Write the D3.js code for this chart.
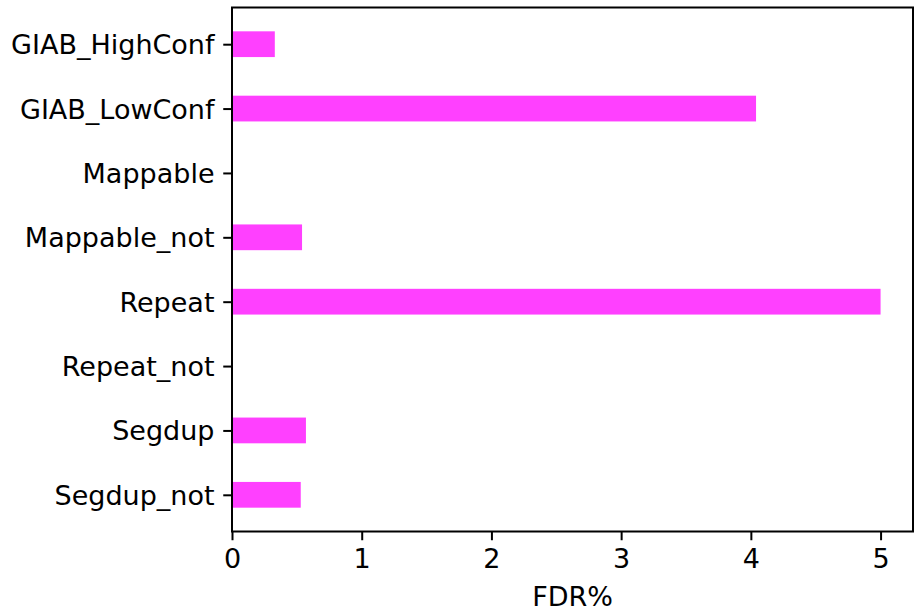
<!DOCTYPE html>
<html>
<head>
<meta charset="utf-8">
<script src="https://cdn.jsdelivr.net/npm/d3@7"></script>
<style>
  body { margin: 0; background: #fff; }
  svg { display: block; }
  text { font-family: "DejaVu Sans", sans-serif; fill: #000; }
</style>
</head>
<body>
<svg id="chart" width="914" height="613"></svg>
<script>
const categories = ["GIAB_HighConf", "GIAB_LowConf", "Mappable", "Mappable_not", "Repeat", "Repeat_not", "Segdup", "Segdup_not"];
const fdrValues = [0.33, 4.04, 0, 0.54, 5.0, 0, 0.57, 0.53];
const xTicks = [0, 1, 2, 3, 4, 5];
const xLabel = "FDR%";

(function () {
const svg = d3.select("#chart");
const pL = 232, pR = 913, pT = 7.5, pB = 531.5;
const fs = 27, tickLen = 8.75, pad = 8.75, lw = 2;
const barH = 0.4;

const x = d3.scaleLinear().domain([0, 5.25]).range([pL, pR]);
const n = categories.length;
const ymargin = (n - 1 + barH) * 0.05;
const y = d3.scaleLinear().domain([-barH / 2 - ymargin, n - 1 + barH / 2 + ymargin]).range([pT, pB]);

// bars
svg.append("g").selectAll("rect").data(categories).join("rect")
  .attr("x", x(0))
  .attr("y", (d, i) => y(i - barH / 2))
  .attr("width", (d, i) => x(fdrValues[i]) - x(0))
  .attr("height", (d, i) => y(i + barH / 2) - y(i - barH / 2))
  .attr("fill", "#ff40ff");

// x axis
const xAxis = d3.axisBottom(x).tickValues(xTicks).tickFormat(d3.format("d"))
  .tickSize(tickLen).tickPadding(pad);
const gx = svg.append("g").attr("transform", `translate(0,${pB})`).call(xAxis);
gx.select(".domain").remove();
gx.selectAll(".tick line").attr("stroke", "#000").attr("stroke-width", lw);
gx.selectAll(".tick text").attr("font-size", fs).attr("font-family", "DejaVu Sans").attr("dy", "0.72em");

// y axis
const yAxis = d3.axisLeft(y).tickValues(d3.range(n)).tickFormat(i => categories[i])
  .tickSize(tickLen).tickPadding(pad);
const gy = svg.append("g").attr("transform", `translate(${pL},0)`).call(yAxis);
gy.select(".domain").remove();
gy.selectAll(".tick line").attr("stroke", "#000").attr("stroke-width", lw);
gy.selectAll(".tick text").attr("font-size", fs).attr("font-family", "DejaVu Sans").attr("dy", "0.35em");

// frame
svg.append("rect").attr("x", pL).attr("y", pT)
  .attr("width", pR - pL).attr("height", pB - pT)
  .attr("fill", "none").attr("stroke", "#000").attr("stroke-width", lw);

// x label
svg.append("text").attr("x", (pL + pR) / 2).attr("y", 605.5)
  .attr("text-anchor", "middle").attr("font-size", fs).text(xLabel);
})();
</script>
</body>
</html>
